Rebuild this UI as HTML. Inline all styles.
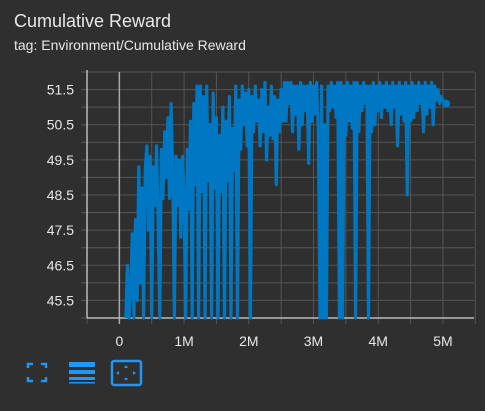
<!DOCTYPE html>
<html><head><meta charset="utf-8"><style>
body{margin:0;background:#2f2f2f;width:485px;height:411px;overflow:hidden;font-family:"Liberation Sans",sans-serif;color:#e8e8e8}
.t{position:absolute;left:14px;top:11px;font-size:18px}
.s{position:absolute;left:14px;top:37px;font-size:14px}
svg{position:absolute;left:0;top:0}
</style></head><body>
<div class="t">Cumulative Reward</div>
<div class="s">tag: Environment/Cumulative Reward</div>
<svg id="c" width="485" height="411">
<g id="grid"></g><g id="axes"></g><g id="plot"></g>
<g fill="none" stroke="#2196f3" stroke-width="2.5">
<path d="M28 368v-4h5M41 364h5v4M46 377v4h-5M33 381h-5v-4"/></g>
<g fill="#2196f3">
<rect x="69" y="362" width="26" height="5"/><rect x="69" y="370" width="26" height="4"/><rect x="69" y="377" width="26" height="3"/><rect x="69" y="382" width="26" height="1.5"/></g>
<g>
<rect x="112" y="361" width="29" height="24" rx="2" fill="none" stroke="#2196f3" stroke-width="2.5"/>
<path d="M126 365l-2 3h4zM126 381l-2-3h4zM116 373l3-2v4zM136 373l-3-2v4z" fill="#2196f3"/></g>
</svg>
<script>
const xStart=0.1, xStep=0.025;
const yTicks=[45.5,46.5,47.5,48.5,49.5,50.5,51.5];
const xTicks=[0,1,2,3,4,5];
const xTickLabels=["0","1M","2M","3M","4M","5M"];
const rewards=[45,46.5,45,45.8,47.4,45,47.8,45.5,49.3,46,
48.7,45,49.2,49.9,47.5,49.6,45,49.3,48.2,49.9,
47.6,45,49.8,48.4,50.3,49,50.7,48.4,51.1,49.2,
45,49.6,48.2,49.5,47.3,49.6,48.4,45,49.8,48.1,
50.6,45,51.1,48.8,51.6,45,51.6,48.6,51.3,45,
51.6,48.9,50.5,45,51.4,48.7,50.7,45,50.2,48.6,
51,45,50.6,48.9,51.3,45,50.4,49.2,51.6,45,
51.2,49.8,51.6,50.5,51.4,49.9,51.5,45,51.3,50.3,
51.6,50.6,51.2,49.9,51.5,50.3,51.7,49.5,51,50.2,
51.6,50.1,51.3,48.8,51.2,50.3,51.5,50.6,51.7,50.6,
51.7,51.1,51.7,50.3,51.6,50.8,51.6,49.8,51.7,50.5,
51.6,50.9,51.6,49.4,51.7,50.6,51.6,50.8,51.7,50.2,
45,51.6,45,50.5,45,51.6,50.9,51.7,51,51.6,
50.7,51.7,45,51.7,45,51.6,50.2,51.7,50.6,51.6,
50.4,51.7,45,51.7,50.3,51.6,50.9,51.7,51.1,51.6,
45,51.6,50.3,51.7,50.5,51.6,50.9,51.7,50.7,51.6,
51,51.7,50.9,51.6,50.5,51.7,51,51.6,49.9,51.7,
50.8,51.6,50.6,51.7,48.5,51.6,50.6,51.7,50.7,51.6,
50.9,51.7,51.1,51.6,50.3,51.7,50.8,51.6,51,51.7,
50.5,51.6,51.2,51.5,51.1,51.3,51.2,51.1,51.1];
const L=87,R=474,T=72,B=318,xMin=-0.5,xMax=5.48,yMin=45,yMax=52;
const sx=v=>L+(v-xMin)/(xMax-xMin)*(R-L);
const sy=v=>B-(v-yMin)/(yMax-yMin)*(B-T);
const NS="http://www.w3.org/2000/svg";
function mk(p,tag,a){const e=document.createElementNS(NS,tag);for(const k in a)e.setAttribute(k,a[k]);document.getElementById(p).appendChild(e);return e;}
for(let v=45;v<=52.001;v+=0.5){const l=mk('grid','line',{x1:L-6,x2:R,y1:sy(v),y2:sy(v),stroke:'#555','stroke-width':1});

}
for(let v=-0.5;v<=5.5;v+=0.5){const l=mk('grid','line',{x1:sx(v),x2:sx(v),y1:T,y2:B+6,stroke:v===0?'#aaa':'#555','stroke-width':v===0?1.5:1});

}
const ya=mk('axes','line',{x1:L,x2:L,y1:T-2,y2:B,stroke:'#bbb','stroke-width':1.5});


const xa=mk('axes','line',{x1:L,x2:R,y1:B,y2:B,stroke:'#bbb','stroke-width':1.5});


yTicks.forEach(v=>{const t=mk('axes','text',{x:74,y:sy(v)+5,'text-anchor':'end','font-size':14,fill:'#e8e8e8'});t.textContent=v.toFixed(1);

});
xTicks.forEach((v,i)=>{const t=mk('axes','text',{x:sx(v),y:346,'text-anchor':'middle','font-size':14,fill:'#e8e8e8'});t.textContent=xTickLabels[i];

});
const pts=rewards.map((r,i)=>sx(xStart+i*xStep).toFixed(1)+','+sy(r).toFixed(1)).join(' ');
const pl=mk('plot','polyline',{points:pts,fill:'none',stroke:'#0077c2','stroke-width':3.2,'stroke-linejoin':'round'});


const n=rewards.length-1;
const c=mk('plot','circle',{cx:sx(xStart+n*xStep),cy:sy(rewards[n]),r:4,fill:'#0077c2'});


</script>
</body></html>
